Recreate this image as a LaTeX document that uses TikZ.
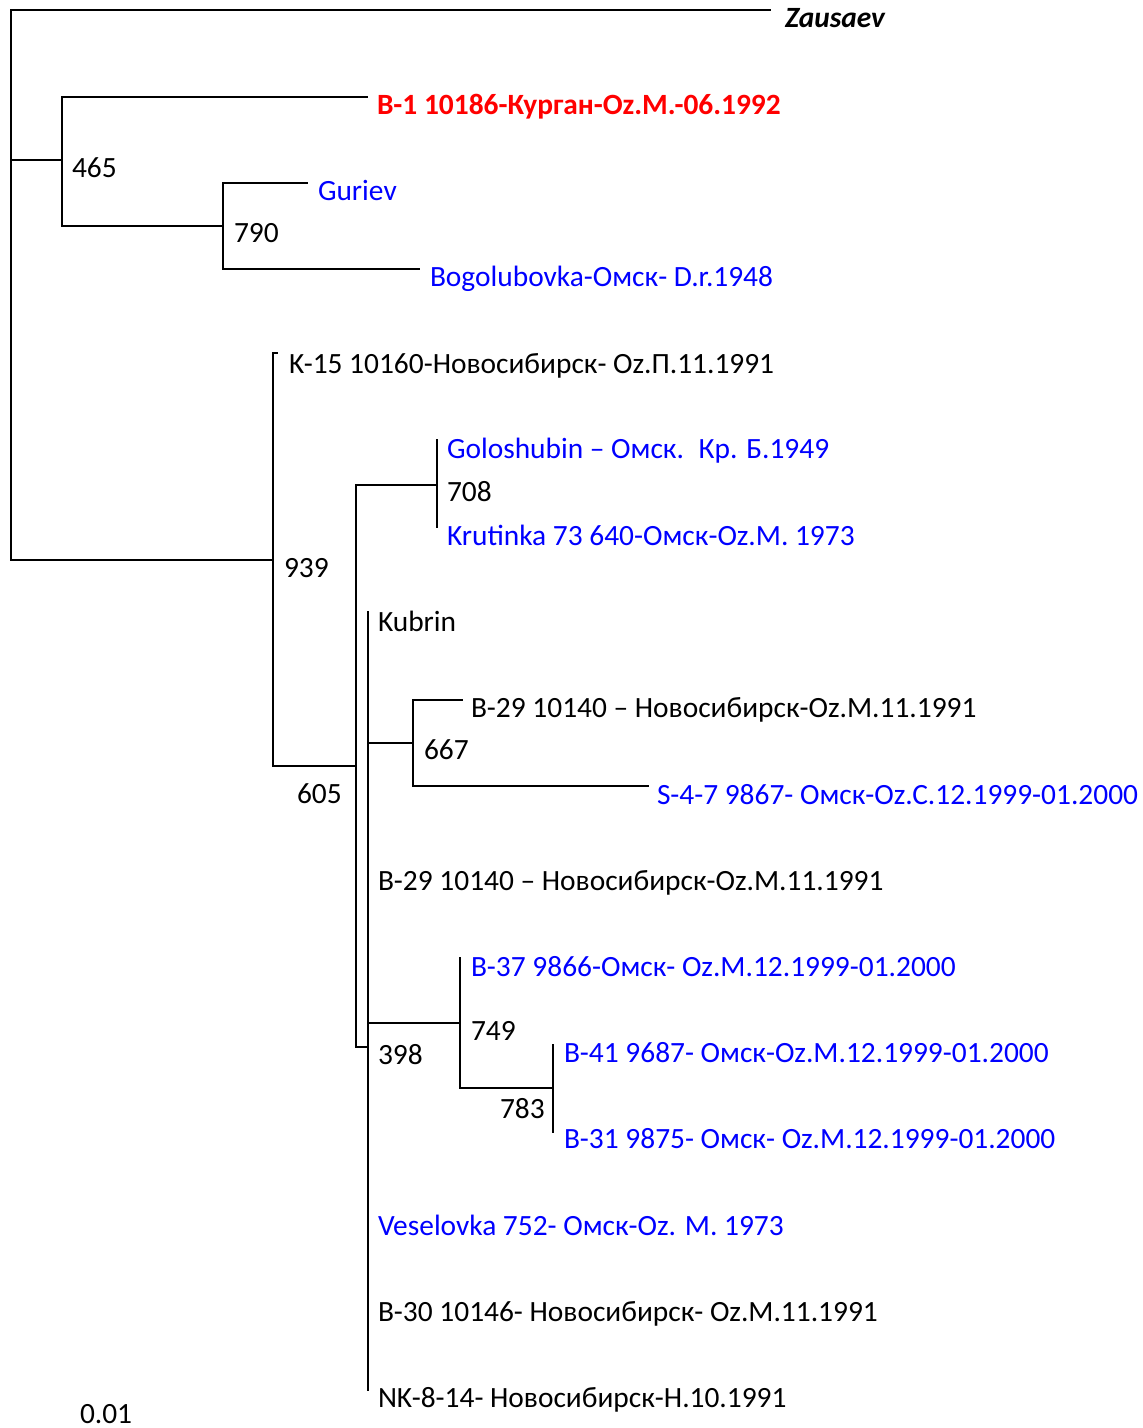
\documentclass[tikz,border=0pt]{standalone}
\usepackage{fontspec}
\setmainfont{Carlito}
\definecolor{tblue}{RGB}{0,0,255}
\definecolor{tred}{RGB}{255,0,0}
\newcommand{\labfont}{\fontsize{29.4}{34}\selectfont}
\begin{document}
\begin{tikzpicture}[x=1pt,y=-1pt,
  br/.style={line width=1.8pt,line cap=rect,line join=miter,black},
  lab/.style={anchor=base west,inner sep=0pt,outer sep=0pt,font=\labfont},
  bs/.style={lab,text=black},
  blu/.style={lab,text=tblue},
  blk/.style={lab,text=black}]
\useasboundingbox (0,0) rectangle (1143,1428);
% tree coordinates
\coordinate (root) at (11,285);
\coordinate (tZau) at (770,10);
\coordinate (n465) at (62,160);
\coordinate (tB1) at (367,97);
\coordinate (n790) at (223,226);
\coordinate (tGur) at (307,183);
\coordinate (tBog) at (419,269);
\coordinate (n939) at (273,560);
\coordinate (tK15) at (277,353);
\coordinate (n605) at (356,766);
\coordinate (n708) at (437,485);
\coordinate (tGolo) at (437,440);
\coordinate (tKrut) at (437,527);
\coordinate (n398) at (368,1047);
\coordinate (tKub) at (368,612);
\coordinate (n667) at (413,743);
\coordinate (tB29a) at (462,700);
\coordinate (tS47) at (648,786);
\coordinate (n749) at (460,1023);
\coordinate (tB37) at (460,958);
\coordinate (n783) at (553,1088);
\coordinate (tB41) at (553,1045);
\coordinate (tB31) at (553,1132);
\coordinate (tNK) at (368,1390);
% branches
\draw[br] (root) |- (tZau);
\draw[br] (root) |- (n465);
\draw[br] (root) |- (n939);
\draw[br] (n465) |- (tB1);
\draw[br] (n465) |- (n790);
\draw[br] (n790) |- (tGur);
\draw[br] (n790) |- (tBog);
\draw[br] (n939) |- (tK15);
\draw[br] (n939) |- (n605);
\draw[br] (n605) |- (n708);
\draw[br] (n605) |- (n398);
\draw[br] (n708) -- (tGolo);
\draw[br] (n708) -- (tKrut);
\draw[br] (n398) -- (tKub);
\draw[br] (n398) -- (tNK);
\draw[br] (n398) |- (n667);
\draw[br] (n398) |- (n749);
\draw[br] (n667) |- (tB29a);
\draw[br] (n667) |- (tS47);
\draw[br] (n749) |- (tB37);
\draw[br] (n749) |- (n783);
\draw[br] (n783) -- (tB41);
\draw[br] (n783) -- (tB31);
% tip labels
\node[blk,font=\labfont\bfseries\itshape] (lZau) at (785,27) {Zausaev};
\node[lab,text=tred,font=\labfont\bfseries] (lB1) at (377,114) {B-1 10186-Курган-Oz.M.-06.1992};
\node[blu] (lGur) at (318,200) {Guriev};
\node[blu] (lBog) at (430,286) {Bogolubovka-Омск- D.r.1948};
\node[blk] (lK15) at (289,373) {K-15 10160-Новосибирск- Oz.П.11.1991};
\node[blu] (lGolo) at (447,458) {Goloshubin – Омск.\hspace{0.5em}Кр. Б.1949};
\node[blu] (lKrut) at (447,545) {Krutinka 73 640-Омск-Oz.M. 1973};
\node[blk] (lKub) at (378,631) {Kubrin};
\node[blk] (lB29a) at (471,717) {B-29 10140 – Новосибирск-Oz.M.11.1991};
\node[blu] (lS47) at (657,804) {S-4-7 9867- Омск-Oz.C.12.1999-01.2000};
\node[blk] (lB29b) at (378,890) {B-29 10140 – Новосибирск-Oz.M.11.1991};
\node[blu] (lB37) at (471,976) {B-37 9866-Омск- Oz.M.12.1999-01.2000};
\node[blu] (lB41) at (564,1062) {B-41 9687- Омск-Oz.M.12.1999-01.2000};
\node[blu] (lB31) at (564,1148) {B-31 9875- Омск- Oz.M.12.1999-01.2000};
\node[blu] (lVes) at (378,1235) {Veselovka 752- Омск-Oz. M. 1973};
\node[blk] (lB30) at (378,1321) {B-30 10146- Новосибирск- Oz.M.11.1991};
\node[blk] (lNK) at (378,1407) {NK-8-14- Новосибирск-Н.10.1991};
% bootstrap values
\node[bs] (b465) at (72,177) {465};
\node[bs] (b790) at (234,242) {790};
\node[bs] (b708) at (447,501) {708};
\node[bs] (b939) at (284,577) {939};
\node[bs] (b667) at (424,759) {667};
\node[bs] (b605) at (297,803) {605};
\node[bs] (b749) at (471,1040) {749};
\node[bs] (b398) at (378,1064) {398};
\node[bs] (b783) at (500,1118) {783};
\node[bs] (scale) at (80,1423) {0.01};
\end{tikzpicture}
\end{document}
